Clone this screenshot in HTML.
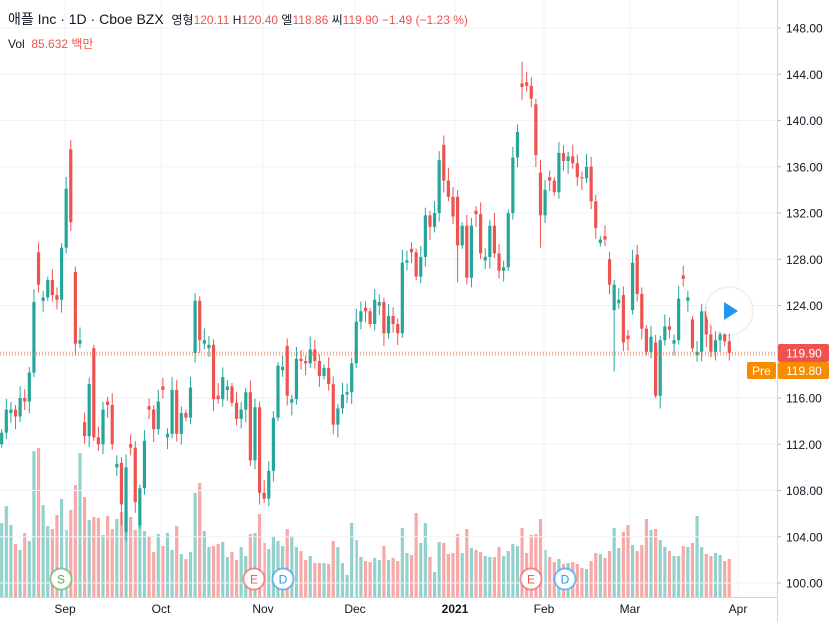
<!DOCTYPE html>
<html><head><meta charset="utf-8">
<style>
html,body{margin:0;padding:0;background:#fff;width:832px;height:622px;overflow:hidden;font-family:"Liberation Sans","Noto Sans CJK KR",sans-serif;}
#c{position:absolute;left:0;top:0}
.hd{position:absolute;left:8px;top:9px;font-size:14px;color:#131722;white-space:nowrap}
.hd span.s{font-size:12px}
.r{color:#ef5350}
.vol{position:absolute;left:8px;top:35px;font-size:12px;color:#131722}
</style></head><body>
<svg id="c" width="832" height="622" xmlns="http://www.w3.org/2000/svg"></svg>
<div class="hd">애플 Inc · 1D · Cboe BZX &nbsp;<span class="s">영형<span class="r">120.11</span> H<span class="r">120.40</span> 엘<span class="r">118.86</span> 씨<span class="r">119.90</span> <span class="r">−1.49 (−1.23 %)</span></span></div>
<div class="vol">Vol &nbsp;<span class="r">85.632 백만</span></div>
<script>
const svg=document.getElementById('c');
let h='';
const Y=p=>583-(p-100)*11.5625;
for(let p=100;p<=148;p+=4){const y=Y(p);h+=`<line x1="0" x2="777" y1="${y}" y2="${y}" stroke="#f0f3fa"/>`;
h+=`<text x="786" y="${y+4.5}" font-size="12" fill="#131722" font-family="Liberation Sans">${p.toFixed(2)}</text>`;
h+=`<line x1="777" x2="781" y1="${y}" y2="${y}" stroke="#b2b5be"/>`;}
const months=[[65,'Sep'],[161,'Oct'],[263,'Nov'],[355,'Dec'],[455,'2021'],[544,'Feb'],[630,'Mar'],[738,'Apr']];
months.forEach(([x,t])=>{h+=`<line x1="${x}" x2="${x}" y1="0" y2="597" stroke="#f0f3fa"/>`;
h+=`<text x="${x}" y="613" font-size="12" text-anchor="middle" fill="#131722" ${t=='2021'?'font-weight="bold"':''} font-family="Liberation Sans">${t}</text>`;});
const D="g113 g115 g115 r114.4 g116 r115.7 g118.2 g124.3 r125.8/128.6 g124.7 g126.2 r124.9 r124.5 g129 g134.1 r131.2/137.5 r120.7/126.9 g121 r112.7/113.9 g117.2 r112.6/120.3 r112 g115 r115.4 r112 g110.3 r106.8/110.4 g110/104.4 r111.7 r107 g108.2/105 g112.3 r115 r113.3 g115.7 r116.7 g112.9 g116.7 r112.9 g114.7 r114.3 g116.9 g124.4/119.9 r121 g121 g120.6 r115.9 r115.9 g117.8 g117 r115.6 r114.2 g115 g116.5 r110.6 g115.2 r107.8 r107.3 g109.7 g114.3 g118.8 "+
"g118.7 r116.2/120.5 g115.9 g119.4 r119.2 r119 g120.2 r119.2 r117.9 g118.6 r117.2 r113.7 g115.1 g116.3 g116.5 g119 g122.6 g123.5 r123.5 r122.4 g124.5 g124.3 r121.6 g123.1 r122.4 r121.6 g127.7 g127.9 r128.6 r126.5 g128.2 g131.8 r130.8 g132 g136.6 r134.8/137.9 r133.4 r131.7 r129.2/133.4 g130.9 r126.4 g130.9 r131.9 r128.5 g128.2 g130.9 r128.5 r127 g127.3 g132 g136.8 g139 r142.9 r143 r141.9 r137/141.4 r131.8/135.5 g134 "+
"r134.8 r133.8 g137.2 r136.5 g136.9 r136.3 r135.1 r135 g136 r133 r130.7 g129.7 r129.7 r125.8/128 g125.8/123.6 g124.5 r120.8/124.9 r121.1 g127.7/123.6 r125/128.4 r122 r120 g121.3 r116.2/120.8 g121 g122.2 r121.9 g121 g124.6 r126.3 g124.7 r120.3/122.8 g120 g123.5 r121.5 r120 g121 g121.5 r120.9 r119.9";
const V=[523,506,525,544,550,533,541,451,448,505,526,529,515,499,530,510,485,453,497,520,517,518,535,516,529,519,512,513,517,530,524,531,536,552,534,546,533,550,526,554,559,552,493,483,531,547,546,544,542,557,552,560,547,556,534,533,514,543,549,536,541,
546,529,536,547,551,560,556,563,563,563,564,541,547,563,575,523,540,557,561,562,558,560,546,560,558,561,528,553,555,513,543,523,557,572,542,543,554,553,534,553,529,548,550,552,556,557,557,547,556,551,544,546,528,553,535,534,519,550,
557,562,559,564,563,562,564,568,569,561,553,554,558,551,528,548,532,525,545,551,545,519,530,529,540,547,551,556,556,546,547,543,516,547,554,556,553,555,561,559];
const hi={15:138.3,26:105,27:103.6,113:145.1,114:144.2,96:138.7,99:126,117:129,133:118.3,142:116};
let prev=112,cs='';
D.split(' ').forEach((t,i)=>{
 const g=t[0]=='g';const [c,o0]=t.slice(1).split('/').map(Number);
 let o=o0!==undefined?o0:prev;
 if(g&&o>=c)o=c-0.3; if(!g&&o<=c)o=c+0.3;
 const x=1.7+i*4.605;const col=g?'#26a69a':'#ef5350';
 let top=Math.max(o,c),bot=Math.min(o,c);
 let H=top+0.3+((i*37)%10)/10*0.9,L=bot-0.3-((i*53)%10)/10*0.9;
 if(hi[i]!==undefined){if(hi[i]>top)H=hi[i];else L=hi[i];}
 const vy=V[i];
 cs+=`<rect x="${x-1.6}" y="${vy}" width="3.2" height="${597-vy}" fill="${g?'#93d2cc':'#f7a9a7'}"/>`;
 h+=`<line x1="${x}" x2="${x}" y1="${Y(H)}" y2="${Y(L)}" stroke="${col}" stroke-width="1"/>`;
 h+=`<rect x="${x-1.6}" y="${Y(top)}" width="3.2" height="${Math.max(1,Y(bot)-Y(top))}" fill="${col}"/>`;
 prev=c;
});
h=cs+h;
h+=`<line x1="0" x2="777" y1="353" y2="353" stroke="#ef5350" stroke-dasharray="1,2"/>`;
h+=`<line x1="0" x2="777" y1="355" y2="355" stroke="#f57c00" stroke-dasharray="1,2"/>`;
h+=`<line x1="777.5" x2="777.5" y1="0" y2="622" stroke="#d1d4dc"/>`;
h+=`<line x1="0" x2="777" y1="597.5" y2="597.5" stroke="#d1d4dc"/>`;
h+=`<rect x="778" y="344" width="51" height="18" rx="2" fill="#ef5350"/><text x="786" y="357.5" font-size="12" fill="#fff" font-family="Liberation Sans">119.90</text>`;
h+=`<rect x="747" y="362" width="29" height="17" rx="2" fill="#f68c00"/><text x="752" y="375" font-size="12" fill="#fff" font-family="Liberation Sans">Pre</text>`;
h+=`<rect x="778" y="362" width="51" height="17" rx="2" fill="#f68c00"/><text x="786" y="375" font-size="12" fill="#fff" font-family="Liberation Sans">119.80</text>`;
h+=`<circle cx="729" cy="311" r="25" fill="#000" opacity="0.05"/><circle cx="729" cy="311" r="23" fill="#fff" opacity="0.95"/><path d="M724 302 L738 311 L724 320Z" fill="#2196f3"/>`;
[[61,'S','#4caf50'],[254,'E','#ef5350'],[283,'D','#2196f3'],[531,'E','#ef5350'],[565,'D','#2196f3']].forEach(([x,t,c])=>{
 h+=`<circle cx="${x}" cy="579" r="10.5" fill="#fff" stroke="${c}" stroke-opacity="0.6" stroke-width="2"/><text x="${x}" y="583.5" font-size="12" text-anchor="middle" fill="${c}" font-family="Liberation Sans">${t}</text>`;});
svg.innerHTML=h;
</script>
</body></html>
